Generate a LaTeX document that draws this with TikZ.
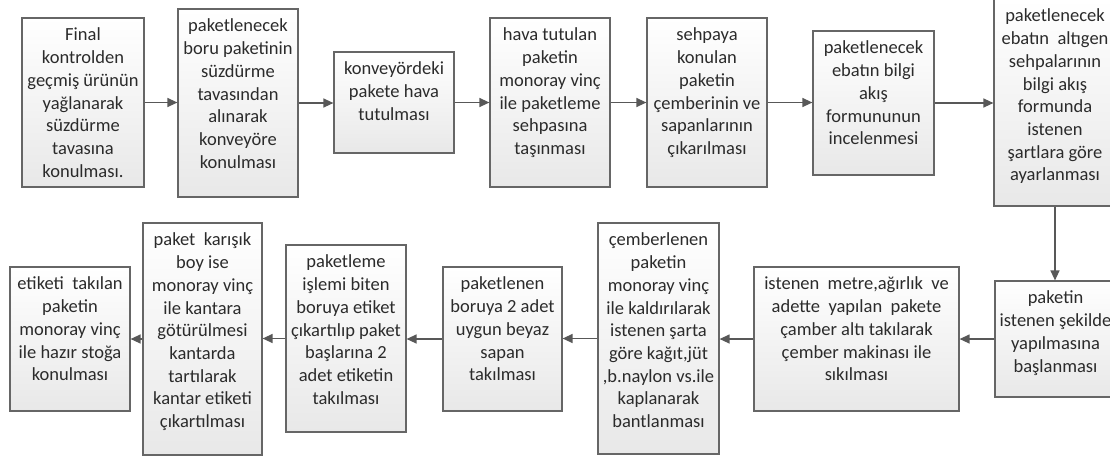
\documentclass[tikz,border=0pt]{standalone}
\usepackage{fontspec}
\setmainfont{Carlito}
\usetikzlibrary{arrows.meta,fit,shadows}

\definecolor{boxline}{HTML}{666666}
\definecolor{arrowcol}{HTML}{585858}
\definecolor{textcol}{HTML}{2B2B2B}

\tikzset{
  stepbox/.style={draw=boxline, line width=1.2pt, top color=white,
    bottom color=black!9, inner sep=0pt,
    drop shadow={shadow xshift=1.2pt, shadow yshift=-1.2pt, fill=black, opacity=0.07}},
  steptext/.style={anchor=north, align=center, inner sep=0pt, text=textcol,
    font=\fontsize{18.5}{22.7}\selectfont},
  flow/.style={draw=arrowcol, line width=1.3pt, -{Triangle[length=10pt,width=9pt]}},
}

% a process step: name, corners (x1,y1) (x2,y2), text set from the top
\newcommand\flowstep[6]{%
  \node[stepbox, fit={(#2,#3) (#4,#5)}] (#1) {};
  \node[steptext] (#1-t) at ([yshift=-10.5pt]#1.north) {#6};
}

\begin{document}
\begin{tikzpicture}[x=1pt, y=-1pt]
\path[use as bounding box, clip] (0,0) rectangle (1110,459);

% upper row, left to right
\flowstep{b1}{22}{18}{144}{187}{Final\\kontrolden\\geçmiş ürünün\\yağlanarak\\süzdürme\\tavasına\\konulması.}
\flowstep{b2}{178}{9}{298}{197}{paketlenecek\\boru paketinin\\süzdürme\\tavasından\\alınarak\\konveyöre\\konulması}
\flowstep{b3}{334}{52}{454}{153}{konveyördeki\\pakete hava\\tutulması}
\flowstep{b4}{490}{18}{610}{187}{hava tutulan\\paketin\\monoray vinç\\ile paketleme\\sehpasına\\taşınması}
\flowstep{b5}{647}{18}{767}{187}{sehpaya\\konulan\\paketin\\çemberinin ve\\sapanlarının\\çıkarılması}
\flowstep{b6}{813}{31}{934}{175}{paketlenecek\\ebatın bilgi\\akış\\formununun\\incelenmesi}
\flowstep{b7}{994}{-1}{1116}{206}{paketlenecek\\ebatın\ \ altıgen\\sehpalarının\\bilgi akış\\formunda\\istenen\\şartlara göre\\ayarlanması}

% lower row, right to left
\flowstep{b8}{995}{281}{1116}{397}{paketin\\istenen şekilde\\yapılmasına\\başlanması}
\flowstep{b9}{754}{267}{959}{411}{istenen\ \ metre,ağırlık\ \ ve\\adette\ \ yapılan\ \ pakete\\çamber altı takılarak\\çember makinası ile\\sıkılması}
\flowstep{b10}{598}{223}{719}{454}{çemberlenen\\paketin\\monoray vinç\\ile kaldırılarak\\istenen şarta\\göre kağıt,jüt\\,b.naylon vs.ile\\kaplanarak\\bantlanması}
\flowstep{b11}{443}{267}{562}{411}{paketlenen\\boruya 2 adet\\uygun beyaz\\sapan\\takılması}
\flowstep{b12}{286}{245}{406}{432}{paketleme\\işlemi biten\\boruya etiket\\çıkartılıp paket\\başlarına 2\\adet etiketin\\takılması}
\flowstep{b13}{143}{223}{262}{455}{paket\ \ karışık\\boy ise\\monoray vinç\\ile kantara\\götürülmesi\\kantarda\\tartılarak\\kantar etiketi\\çıkartılması}
\flowstep{b14}{10}{267}{130}{411}{etiketi\ \ takılan\\paketin\\monoray vinç\\ile hazır stoğa\\konulması}

% connectors
\draw[flow] (b1.east) -- (b1.east -| b2.west);
\draw[flow] (b2.east) -- (b2.east -| b3.west);
\draw[flow] (b3.east) -- (b3.east -| b4.west);
\draw[flow] (b4.east) -- (b4.east -| b5.west);
\draw[flow] (b5.east) -- (b5.east -| b6.west);
\draw[flow] (b6.east) -- (b6.east -| b7.west);
\draw[flow] (b7.south) -- (b7.south |- b8.north);
\draw[flow] (b8.west) -- (b8.west -| b9.east);
\draw[flow] (b9.west) -- (b9.west -| b10.east);
\draw[flow] (b10.west) -- (b10.west -| b11.east);
\draw[flow] (b11.west) -- (b11.west -| b12.east);
\draw[flow] (b12.west) -- (b12.west -| b13.east);
\draw[flow] (b13.west) -- (b13.west -| b14.east);
\end{tikzpicture}
\end{document}
